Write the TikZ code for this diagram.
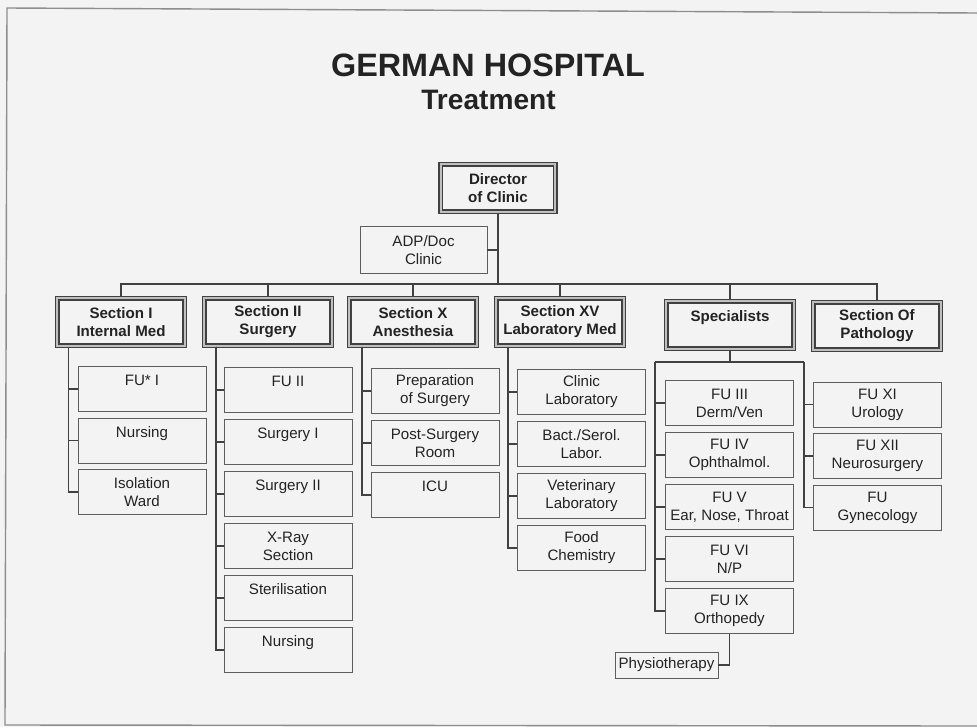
\documentclass[tikz,border=0pt]{standalone}
\usepackage{fontspec}
\setmainfont{Liberation Sans}
\definecolor{paper}{RGB}{243,243,243}
\definecolor{ink}{RGB}{35,35,35}
\definecolor{rule}{RGB}{65,65,65}

\begin{document}
\begin{tikzpicture}
        [%%%%%%%%%%%%%%%%%%%%%%%%%%%%%%
        x=0.02cm, y=-0.02cm,
        every node/.style={font=\fontsize{8.6}{10.2}\selectfont, text=ink, align=center, inner sep=0pt},
        unit/.style={rectangle, draw=rule!85, line width=0.5pt, minimum width=2.56cm, minimum height=0.9cm},
        head/.style={rectangle, draw=rule, line width=0.9pt, double=gray!50, double distance=1.2pt,
                     minimum width=2.55cm, minimum height=0.95cm, font=\fontsize{8.6}{10.2}\selectfont\bfseries},
        link/.style={draw=rule, line width=0.6pt},
        ]%%%%%%%%%%%%%%%%%%%%%%%%%%%%%%

        \fill[paper] (0,0) rectangle (977,727);
        \useasboundingbox (0,0) rectangle (977,727);
        \draw[rule!60, line width=0.8pt] (977,13) -- (7,8) -- (5,725) -- (977,726);

        % title
        \node[font=\fontsize{18.4}{22}\selectfont\bfseries] (title) at (488,65.5) {GERMAN HOSPITAL};
        \node[font=\fontsize{16}{19}\selectfont\bfseries] (subtitle) at (488.5,100) {Treatment};

        % top
        \node[head, minimum width=2.29cm] (dir) at (498,188) {Director\\of Clinic};
        \node[unit, minimum width=2.54cm, minimum height=0.94cm] (adp) at (423.5,250) {ADP/Doc\\Clinic};
        \coordinate (bus) at (0,284);
        \draw[link] (dir.south) -- (dir.south |- bus);
        \draw[link] (adp.east) -- (adp.east -| dir.south);

        % sections
        \node[head] (s1) at (121,322) {Section I\\Internal Med};
        \node[head] (s2) at (268,322) {Section II\\Surgery};
        \node[head] (s3) at (413,322) {Section X\\Anesthesia};
        \node[head] (s4) at (560,322) {Section XV\\Laboratory Med};
        \node[head] (s5) at (730,325) {Specialists\\~};
        \node[head] (s6) at (877,326) {Section Of\\Pathology};

        \draw[link] (s1.north) -- (s1.north |- bus) -| (s6.north);
        \foreach \s in {2,3,4,5}
          \draw[link] (s\s.north) -- (s\s.north |- bus);

        % Section I
        \coordinate (ta) at ([xshift=-1.05cm]s1.south);
        \foreach \txt [count=\i] in {{FU* I\\~},{Nursing\\~},{Isolation\\Ward}}{
          \node[unit] (a\i) at (142,{389+51.5*(\i-1)}) {\txt};
          \draw[link] (ta) |- (a\i.west);
        }

        % Section II
        \coordinate (tb) at ([xshift=-1.04cm]s2.south);
        \foreach \txt [count=\i] in {{FU II\\~},{Surgery I\\~},{Surgery II\\~},{X-Ray\\Section},{Sterilisation\\~},{Nursing\\~}}{
          \node[unit] (b\i) at (288,{390+52*(\i-1)}) {\txt};
          \draw[link] (tb) |- (b\i.west);
        }

        % Section X
        \coordinate (tc) at ([xshift=-1.02cm]s3.south);
        \foreach \txt [count=\i] in {{Preparation\\of Surgery},{Post-Surgery\\Room},{ICU\\~}}{
          \node[unit] (c\i) at (435,{391+52*(\i-1)}) {\txt};
          \draw[link] (tc) |- (c\i.west);
        }

        % Section XV
        \coordinate (td) at ([xshift=-1.04cm]s4.south);
        \foreach \txt [count=\i] in {{Clinic\\Laboratory},{Bact./Serol.\\Labor.},{Veterinary\\Laboratory},{Food\\Chemistry}}{
          \node[unit] (d\i) at (581.5,{392+52*(\i-1)}) {\txt};
          \draw[link] (td) |- (d\i.west);
        }

        % Specialists
        \coordinate (tl) at (655,362);
        \coordinate (tr) at (804,362);
        \draw[link] (s5.south) -- (s5.south |- tl);
        \draw[link] (tl) -- (tr);
        \foreach \txt [count=\i] in {{FU III\\Derm/Ven},{FU IV\\Ophthalmol.},{FU V\\Ear, Nose, Throat},{FU VI\\N/P},{FU IX\\Orthopedy}}{
          \node[unit] (e\i) at (729.5,{403+52*(\i-1)}) {\txt};
          \draw[link] (tl) |- (e\i.west);
        }
        \foreach \txt [count=\i] in {{FU XI\\Urology},{FU XII\\Neurosurgery},{FU\\Gynecology}}{
          \node[unit] (f\i) at (877.5,{404.5+51.5*(\i-1)}) {\txt};
          \draw[link] (tr) |- (f\i.west);
        }

        \node[unit, minimum width=2.06cm, minimum height=0.52cm] (physio) at (666.5,665) {Physiotherapy};
        \draw[link] (e5.south) |- (physio.east);
      \end{tikzpicture}
\end{document}
